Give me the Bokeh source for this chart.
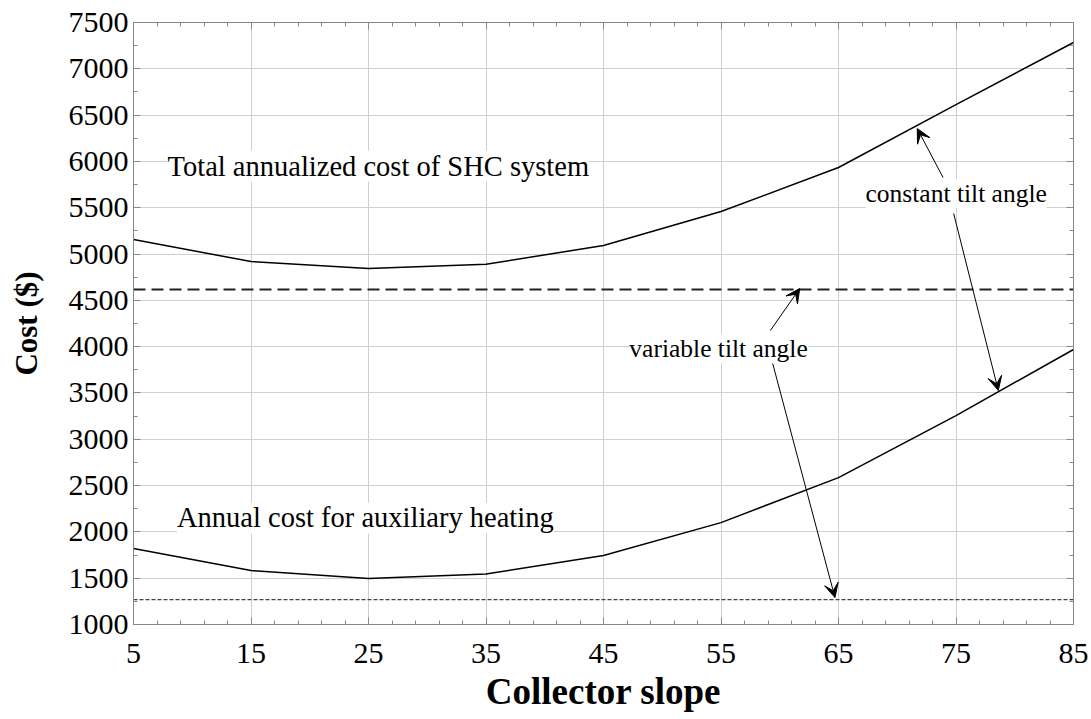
from bokeh.plotting import figure
from bokeh.models import (FixedTicker, LinearAxis, Label, Arrow, VeeHead, Range1d,
                          CustomJSTickFormatter)
from bokeh.embed import file_html
from bokeh.resources import INLINE

# ---- data ----
slope = [5, 15, 25, 35, 45, 55, 65, 75, 85]
total_constant = [5157, 4919, 4844, 4890, 5092, 5459, 5934, 6614, 7284]
aux_constant = [1820, 1582, 1496, 1545, 1744, 2100, 2586, 3256, 3969]
total_variable = 4617
aux_variable = 1269

x_ticks = [5, 15, 25, 35, 45, 55, 65, 75, 85]
x_minor = [v for v in range(5, 86, 2)]
y_ticks = [1000, 1500, 2000, 2500, 3000, 3500, 4000, 4500, 5000, 5500, 6000, 6500, 7000, 7500]
y_minor = [v for v in range(1000, 7501, 250)]

SERIF = "Liberation Serif"

p = figure(width=1091, height=719, output_backend="svg", toolbar_location=None,
           x_range=Range1d(5, 85), y_range=Range1d(1000, 7500),
           min_border_left=133, min_border_right=18, min_border_top=22, min_border_bottom=95)
p.background_fill_color = "white"
p.border_fill_color = "white"
p.outline_line_color = "#888888"

xt = FixedTicker(ticks=x_ticks, minor_ticks=x_minor)
yt = FixedTicker(ticks=y_ticks, minor_ticks=y_minor)
p.xaxis.ticker = xt
p.yaxis.ticker = yt
p.xgrid.ticker = xt
p.ygrid.ticker = yt
p.grid.grid_line_color = "#cfcfcf"
p.grid.grid_line_width = 1


def style_axis(ax):
    ax.axis_line_color = "#888888"
    ax.major_tick_line_color = "#888888"
    ax.minor_tick_line_color = "#888888"
    ax.major_tick_in = 7
    ax.major_tick_out = 0
    ax.minor_tick_in = 4
    ax.minor_tick_out = 0
    ax.major_label_text_font = SERIF
    ax.major_label_text_font_size = "30px"
    ax.major_label_text_color = "black"
    ax.axis_label_text_font = SERIF
    ax.axis_label_text_font_style = "bold"
    ax.axis_label_text_color = "black"


for ax in p.xaxis + p.yaxis:
    style_axis(ax)

p.xaxis.axis_label = "Collector slope"
p.xaxis.axis_label_text_font_size = "37px"
p.xaxis.major_label_standoff = 19
p.xaxis.axis_label_standoff = 5

p.yaxis.axis_label = "Cost ($)"
p.yaxis.axis_label_text_font_size = "31px"
p.yaxis.major_label_standoff = 5
p.yaxis.axis_label_standoff = 22

blank = CustomJSTickFormatter(code="return ''")
top = LinearAxis(ticker=xt, formatter=blank)
right = LinearAxis(ticker=yt, formatter=blank)
for ax in (top, right):
    style_axis(ax)
    ax.major_label_standoff = 0
    ax.major_label_text_font_size = "1px"
p.add_layout(top, "above")
p.add_layout(right, "right")

# ---- curves ----
p.line(slope, total_constant, line_color="black", line_width=1.5)
p.line(slope, aux_constant, line_color="black", line_width=1.5)
p.line([slope[0], slope[-1]], [total_variable, total_variable], line_color="#222222",
       line_width=2.2, line_dash="12 6")
p.line([slope[0], slope[-1]], [aux_variable, aux_variable], line_color="#444444",
       line_width=1.2, line_dash="4 2")

# ---- arrows ----
arrows = [
    (73.9, 5826, 71.7, 6355),
    (74.8, 5438, 78.6, 3527),
    (59.2, 4174, 61.7, 4628),
    (59.4, 3818, 64.7, 1291),
]
for xs, ys, xe, ye in arrows:
    p.add_layout(Arrow(x_start=xs, y_start=ys, x_end=xe, y_end=ye, line_color="black",
                       line_width=1,
                       end=VeeHead(size=14, fill_color="black", line_color="black", line_width=1)))

# ---- text labels ----
labels = [
    ("Total annualized cost of SHC system", 7.9, 5950, "28.5px"),
    ("Annual cost for auxiliary heating", 8.7, 2150, "28.5px"),
    ("constant tilt angle", 67.3, 5654, "25.5px"),
    ("variable tilt angle", 47.2, 3980, "25.5px"),
]
for txt, lx, ly, fs in labels:
    p.add_layout(Label(x=lx, y=ly, text=txt, text_font=SERIF, text_font_size=fs,
                       text_color="black", text_align="left", text_baseline="middle",
                       background_fill_color="white", background_fill_alpha=1.0))

open("out.html", "w").write(file_html(p, INLINE))
